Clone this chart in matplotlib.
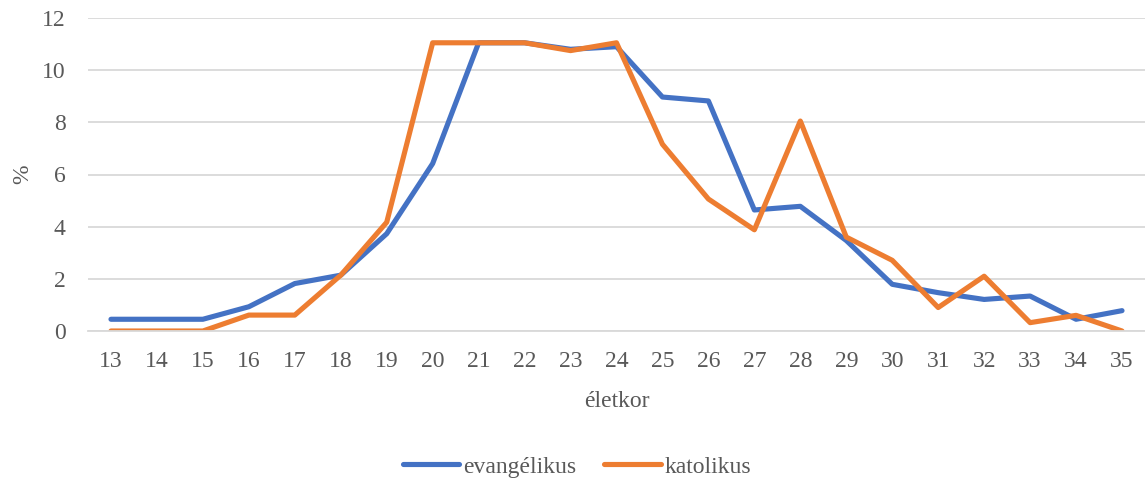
import matplotlib
matplotlib.use("Agg")
import matplotlib.pyplot as plt

ages = list(range(13, 36))
evangelikus = [0.45, 0.45, 0.45, 0.93, 1.82, 2.14, 3.73, 6.42, 11.05, 11.05, 10.8, 10.9,
               8.97, 8.82, 4.64, 4.78, 3.47, 1.79, 1.47, 1.21, 1.34, 0.45, 0.78]
katolikus = [0.0, 0.0, 0.0, 0.61, 0.61, 2.14, 4.17, 11.05, 11.05, 11.05, 10.75, 11.05,
             7.16, 5.06, 3.88, 8.05, 3.6, 2.71, 0.9, 2.1, 0.32, 0.6, 0.0]
series_names = ["evangélikus", "katolikus"]
colors = ["#4472C4", "#ED7D31"]

plt.rcParams['font.family'] = ['Liberation Serif', 'DejaVu Serif']
txt = "#595959"
fs = 17

fig = plt.figure(figsize=(11.45, 4.79), dpi=100)
ax = fig.add_axes([88/1145, 1-331/479, (1145-88)/1145, (331-18)/479])

x = list(range(len(ages)))
for vals, name, c in zip([evangelikus, katolikus], series_names, colors):
    ax.plot(x, vals, color=c, lw=3.7, label=name, solid_capstyle='round', solid_joinstyle='round')

ax.set_xlim(-0.5, len(ages) - 0.5)
ax.set_ylim(0, 12)
ax.set_yticks(range(0, 13, 2))
ax.set_xticks(x)
ax.set_xticklabels([str(a) for a in ages])
ax.yaxis.grid(True, color="#d9d9d9", lw=1.3)
ax.set_axisbelow(True)
for s in ["top", "right", "left"]:
    ax.spines[s].set_visible(False)
ax.spines["bottom"].set_color("#d9d9d9")
ax.spines["bottom"].set_linewidth(1.3)
ax.tick_params(axis='both', length=0, labelsize=fs, colors=txt)
ax.tick_params(axis='x', pad=14.5)
ax.tick_params(axis='y', pad=16)
ax.set_xlabel("életkor", fontsize=fs, color=txt)
ax.xaxis.set_label_coords(0.5, -0.193)
ax.set_ylabel("%", fontsize=fs, color=txt)
ax.yaxis.set_label_coords(-0.052, 0.5)

leg = fig.legend(loc='center', bbox_to_anchor=(577/1145, 1-467/479), ncol=2, frameon=False,
                 fontsize=fs, handlelength=2.4, handletextpad=0.15, columnspacing=1.2)
for t in leg.get_texts():
    t.set_color(txt)

fig.savefig("out.png", dpi=100)
